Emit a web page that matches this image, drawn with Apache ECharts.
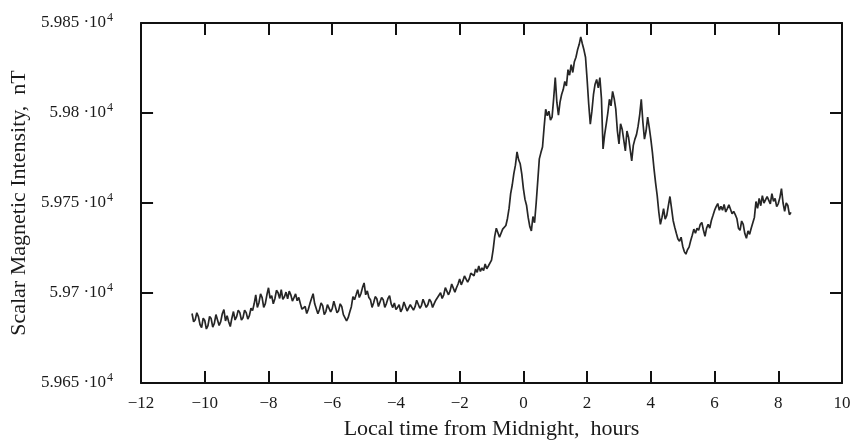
<!DOCTYPE html>
<html>
<head>
<meta charset="utf-8">
<script src="https://cdn.jsdelivr.net/npm/echarts@6/dist/echarts.min.js"></script>
<style>html,body{margin:0;padding:0;background:#fff}#c{width:857px;height:445px}</style>
</head>
<body>
<div id="c"></div>
<script>
// [hour from local midnight, scalar intensity nT]
const readings = [
[-10.4,59688.6],[-10.35,59684.0],[-10.3,59685.2],[-10.25,59689.0],[-10.2,59686.9],[-10.15,59682.5],[-10.1,59680.8],[-10.05,59686.0],
[-10.0,59684.7],[-9.95,59680.0],[-9.9,59681.9],[-9.85,59687.0],[-9.8,59685.8],[-9.75,59681.0],[-9.7,59683.1],[-9.65,59688.0],
[-9.6,59686.9],[-9.55,59682.0],[-9.5,59684.1],[-9.45,59688.5],[-9.4,59690.8],[-9.35,59684.5],[-9.3,59687.4],[-9.25,59684.0],
[-9.2,59681.4],[-9.15,59686.0],[-9.1,59689.7],[-9.05,59685.0],[-9.0,59686.9],[-8.95,59690.5],[-8.9,59689.1],[-8.85,59685.0],
[-8.8,59686.3],[-8.75,59690.5],[-8.7,59689.1],[-8.65,59685.5],[-8.6,59687.4],[-8.55,59691.5],[-8.5,59690.2],[-8.45,59694.0],
[-8.4,59699.0],[-8.35,59692.0],[-8.3,59694.6],[-8.25,59699.5],[-8.2,59697.4],[-8.15,59692.0],[-8.1,59694.1],[-8.05,59699.0],
[-8.0,59702.9],[-7.95,59697.0],[-7.9,59698.5],[-7.85,59694.0],[-7.8,59696.8],[-7.75,59701.5],[-7.7,59700.1],[-7.65,59697.0],
[-7.6,59701.8],[-7.55,59696.5],[-7.5,59697.9],[-7.45,59700.5],[-7.4,59696.8],[-7.35,59701.0],[-7.3,59699.0],[-7.25,59695.5],
[-7.2,59697.4],[-7.15,59699.5],[-7.1,59695.7],[-7.05,59697.5],[-7.0,59694.1],[-6.95,59691.0],[-6.9,59690.8],[-6.85,59692.5],
[-6.8,59688.6],[-6.75,59691.0],[-6.7,59694.1],[-6.65,59697.0],[-6.6,59699.6],[-6.55,59694.0],[-6.5,59693.0],[-6.45,59688.5],
[-6.4,59690.8],[-6.35,59694.5],[-6.3,59693.0],[-6.25,59688.0],[-6.2,59689.7],[-6.15,59693.5],[-6.1,59694.1],[-6.05,59689.5],
[-6.0,59691.3],[-5.95,59695.5],[-5.9,59694.6],[-5.85,59689.0],[-5.8,59690.2],[-5.75,59694.0],[-5.7,59692.4],[-5.65,59688.0],
[-5.6,59688.6],[-5.55,59684.5],[-5.5,59686.3],[-5.45,59689.5],[-5.4,59692.4],[-5.35,59698.0],[-5.3,59696.3],[-5.25,59699.0],
[-5.2,59701.8],[-5.15,59697.5],[-5.1,59699.6],[-5.05,59703.0],[-5.0,59705.6],[-4.95,59699.0],[-4.9,59701.2],[-4.85,59697.5],
[-4.8,59696.3],[-4.75,59692.0],[-4.7,59694.6],[-4.65,59698.0],[-4.6,59696.8],[-4.55,59692.5],[-4.5,59693.5],[-4.45,59697.5],
[-4.4,59696.3],[-4.35,59692.0],[-4.3,59694.1],[-4.25,59697.0],[-4.2,59698.5],[-4.15,59694.0],[-4.1,59691.9],[-4.05,59694.5],
[-4.0,59690.8],[-3.95,59692.0],[-3.9,59693.5],[-3.85,59689.5],[-3.8,59691.3],[-3.75,59695.0],[-3.7,59694.1],[-3.65,59690.0],
[-3.6,59690.8],[-3.55,59693.5],[-3.5,59694.6],[-3.45,59690.5],[-3.4,59692.4],[-3.35,59696.0],[-3.3,59695.2],[-3.25,59691.5],
[-3.2,59693.0],[-3.15,59696.5],[-3.1,59695.7],[-3.05,59692.0],[-3.0,59693.5],[-2.95,59696.5],[-2.9,59695.2],[-2.85,59692.0],
[-2.8,59694.1],[-2.75,59696.0],[-2.7,59697.4],[-2.65,59698.5],[-2.6,59700.1],[-2.55,59697.0],[-2.5,59699.0],[-2.45,59703.0],
[-2.4,59702.3],[-2.35,59699.0],[-2.3,59701.2],[-2.25,59705.0],[-2.2,59704.0],[-2.15,59700.5],[-2.1,59702.9],[-2.05,59705.0],
[-2.0,59707.8],[-1.95,59704.5],[-1.9,59706.7],[-1.85,59709.5],[-1.8,59710.6],[-1.75,59706.0],[-1.7,59707.8],[-1.65,59711.0],
[-1.6,59711.7],[-1.55,59709.5],[-1.5,59713.3],[-1.45,59711.5],[-1.4,59715.0],[-1.35,59712.0],[-1.3,59713.9],[-1.25,59712.5],
[-1.2,59716.1],[-1.15,59713.5],[-1.1,59715.0],[-1.05,59714.0],[-1.0,59718.3],[-0.95,59724.0],[-0.9,59731.5],[-0.85,59736.0],
[-0.8,59735.4],[-0.75,59731.0],[-0.7,59730.4],[-0.65,59735.5],[-0.6,59734.8],[-0.55,59737.5],[-0.5,59741.4],[-0.45,59747.0],
[-0.4,59755.2],[-0.35,59760.0],[-0.3,59766.3],[-0.25,59771.0],[-0.2,59778.4],[-0.15,59774.0],[-0.1,59771.8],[-0.05,59766.0],
[0.0,59758.0],[0.05,59752.0],[0.1,59748.6],[0.15,59742.0],[0.2,59737.0],[0.25,59734.5],[0.3,59742.5],[0.35,59739.0],
[0.4,59749.7],[0.45,59762.0],[0.5,59774.5],[0.55,59778.0],[0.6,59781.1],[0.65,59792.0],[0.7,59802.1],[0.75,59798.5],
[0.8,59801.0],[0.85,59796.0],[0.9,59797.7],[0.95,59808.0],[1.0,59819.7],[1.05,59806.0],[1.1,59798.8],[1.15,59806.0],
[1.2,59810.3],[1.25,59813.0],[1.3,59817.5],[1.35,59815.0],[1.4,59824.1],[1.45,59821.0],[1.5,59826.9],[1.55,59822.5],
[1.6,59828.5],[1.65,59831.0],[1.7,59835.1],[1.75,59838.0],[1.8,59842.3],[1.85,59838.5],[1.9,59835.1],[1.95,59831.0],
[2.0,59818.6],[2.05,59805.0],[2.1,59793.8],[2.15,59801.0],[2.2,59810.3],[2.25,59816.0],[2.3,59818.6],[2.35,59814.0],
[2.4,59819.7],[2.45,59808.0],[2.5,59780.0],[2.55,59788.0],[2.6,59793.8],[2.65,59800.0],[2.7,59807.6],[2.75,59804.0],
[2.8,59812.0],[2.85,59808.0],[2.9,59802.1],[2.95,59790.0],[3.0,59782.8],[3.05,59794.0],[3.1,59791.0],[3.15,59785.0],
[3.2,59778.9],[3.25,59790.0],[3.3,59786.6],[3.35,59780.0],[3.4,59773.4],[3.45,59782.0],[3.5,59785.5],[3.55,59788.0],
[3.6,59792.7],[3.65,59799.0],[3.7,59807.6],[3.75,59795.0],[3.8,59785.5],[3.85,59790.0],[3.9,59797.7],[3.95,59792.0],
[4.0,59785.5],[4.05,59778.0],[4.1,59769.0],[4.15,59761.0],[4.2,59754.1],[4.25,59745.0],[4.3,59738.1],[4.35,59742.0],
[4.4,59746.9],[4.45,59741.0],[4.5,59743.1],[4.55,59748.5],[4.6,59753.6],[4.65,59747.0],[4.7,59740.3],[4.75,59736.5],
[4.8,59733.2],[4.85,59730.0],[4.9,59728.8],[4.95,59731.0],[5.0,59726.0],[5.05,59723.0],[5.1,59721.6],[5.15,59724.0],
[5.2,59725.5],[5.25,59729.0],[5.3,59732.1],[5.35,59735.5],[5.4,59733.2],[5.45,59736.0],[5.5,59734.8],[5.55,59738.0],
[5.6,59739.2],[5.65,59735.0],[5.7,59731.5],[5.75,59736.0],[5.8,59738.1],[5.85,59736.0],[5.9,59740.3],[5.95,59743.0],
[6.0,59745.9],[6.05,59748.0],[6.1,59749.7],[6.15,59746.0],[6.2,59748.1],[6.25,59746.0],[6.3,59749.2],[6.35,59745.0],
[6.4,59746.9],[6.45,59749.0],[6.5,59748.1],[6.55,59744.0],[6.6,59745.3],[6.65,59743.5],[6.7,59741.4],[6.75,59736.0],
[6.8,59734.8],[6.85,59740.0],[6.9,59738.1],[6.95,59733.0],[7.0,59730.4],[7.05,59734.5],[7.1,59732.6],[7.15,59736.0],
[7.2,59737.0],[7.25,59742.0],[7.3,59750.8],[7.35,59747.0],[7.4,59752.5],[7.45,59748.5],[7.5,59754.1],[7.55,59750.0],
[7.6,59749.7],[7.65,59753.5],[7.7,59753.6],[7.75,59749.5],[7.8,59755.2],[7.85,59751.0],[7.9,59752.5],[7.95,59748.0],
[8.0,59749.7],[8.05,59753.0],[8.1,59758.0],[8.15,59750.0],[8.2,59745.3],[8.25,59750.0],[8.3,59748.6],[8.35,59743.5],
[8.4,59744.8]
];
const xTickValues = [-12,-10,-8,-6,-4,-2,0,2,4,6,8,10];
const xTickLabels = ['\u221212','\u221210','\u22128','\u22126','\u22124','\u22122','0','2','4','6','8','10'];
const yTickValues = [59650,59700,59750,59800,59850];
const yTickMantissa = ['5.965','5.97','5.975','5.98','5.985'];

const FONT = '"Liberation Serif", "Times New Roman", serif';
const chart = echarts.init(document.getElementById('c'), null, {renderer: 'canvas'});
const axisLine = {show: true, onZero: false, lineStyle: {color: '#111', width: 2}};
const tick = {show: true, inside: true, length: 12, lineStyle: {color: '#111', width: 2}};
chart.setOption({
  animation: false,
  backgroundColor: '#fff',
  grid: {left: 140, right: 15, top: 23, bottom: 58, show: false},
  xAxis: [{
    type: 'value', min: -12, max: 10, interval: 2, position: 'bottom',
    axisLine: axisLine, axisTick: tick, splitLine: {show: false},
    axisLabel: {
      margin: 12, color: '#1a1a1a', fontFamily: FONT, fontSize: 17,
      formatter: v => { const i = xTickValues.indexOf(v); return i >= 0 ? xTickLabels[i] : ''; }
    },
    name: 'Local time from Midnight,  hours', nameLocation: 'middle', nameGap: 35,
    nameTextStyle: {color: '#1a1a1a', fontFamily: FONT, fontSize: 22}
  }, {
    type: 'value', min: -12, max: 10, interval: 2, position: 'top',
    axisLine: axisLine, axisTick: tick, splitLine: {show: false}, axisLabel: {show: false}
  }],
  yAxis: [{
    type: 'value', min: 59650, max: 59850, interval: 50, position: 'left',
    axisLine: axisLine, axisTick: tick, splitLine: {show: false},
    axisLabel: {
      margin: 28, color: '#1a1a1a', fontFamily: FONT, fontSize: 17,
      formatter: v => { const i = yTickValues.indexOf(v); return i >= 0 ? '{m|' + yTickMantissa[i] + ' \u00b710}{s|4}' : ''; },
      rich: {
        m: {fontFamily: FONT, fontSize: 17, color: '#1a1a1a'},
        s: {fontFamily: FONT, fontSize: 12, color: '#1a1a1a', verticalAlign: 'top', padding: [0, 0, 10, 1]}
      }
    },
    name: 'Scalar Magnetic Intensity,  nT', nameLocation: 'middle', nameGap: 105, nameRotate: 90,
    nameTextStyle: {color: '#1a1a1a', fontFamily: FONT, fontSize: 22}
  }, {
    type: 'value', min: 59650, max: 59850, interval: 50, position: 'right',
    axisLine: axisLine, axisTick: tick, splitLine: {show: false}, axisLabel: {show: false}
  }],
  series: [{
    type: 'line', xAxisIndex: 0, yAxisIndex: 0, showSymbol: false, symbol: 'none',
    data: readings,
    lineStyle: {color: '#262626', width: 1.7}
  }]
});
</script>
</body>
</html>
